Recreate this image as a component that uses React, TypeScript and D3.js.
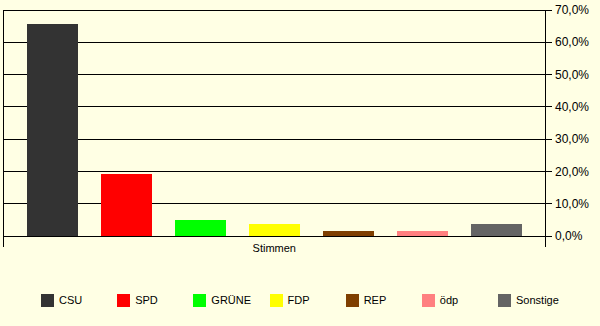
import React from "react";
import * as d3 from "d3";

const parties = ["CSU", "SPD", "GRÜNE", "FDP", "REP", "ödp", "Sonstige"];
const shares = [65.7, 19.2, 5.0, 3.7, 1.6, 1.5, 3.7];
const colors = ["#333333", "#ff0000", "#00ff00", "#ffff00", "#7f3f00", "#ff8080", "#646464"];
const yTicks = [0, 10, 20, 30, 40, 50, 60, 70];
const categoryLabel = "Stimmen";

const W = 600;
const H = 326;
const left = 3;
const right = 545.5;
const top = 10;
const bottom = 236;
const font = "'Liberation Sans', Arial, sans-serif";

export default function App() {
  const y = d3.scaleLinear().domain([0, 70]).range([bottom, top]);
  const x = d3
    .scaleBand<string>()
    .domain(parties)
    .range([15.5, 533.5])
    .paddingInner(0.311)
    .paddingOuter(0.1555);
  const fmt = (v: number) => d3.format(".1f")(v).replace(".", ",") + "%";
  const legendX = d3.scalePoint<string>().domain(parties).range([41, 498]);

  return (
    <svg
      width={W}
      height={H}
      style={{ position: "absolute", left: 0, top: 0, background: "#ffffe4" }}
    >
      <rect x={0} y={0} width={W} height={H} fill="#ffffe4" />
      {yTicks.map((t) => (
        <g key={t}>
          <line x1={left} x2={right + 6} y1={y(t)} y2={y(t)} stroke="#000" strokeWidth={1} shapeRendering="crispEdges" />
          <text x={555} y={y(t)} dy="0.35em" fontFamily={font} fontSize={12} fill="#000">
            {fmt(t)}
          </text>
        </g>
      ))}
      {parties.map((p, i) => (
        <rect
          key={p}
          x={x(p)}
          y={y(shares[i])}
          width={x.bandwidth()}
          height={bottom - y(shares[i])}
          fill={colors[i]}
          shapeRendering="crispEdges"
        />
      ))}
      <line x1={left} x2={left} y1={top} y2={247} stroke="#000" shapeRendering="crispEdges" />
      <line x1={right} x2={right} y1={top} y2={247} stroke="#000" shapeRendering="crispEdges" />
      <line x1={left} x2={right} y1={bottom} y2={bottom} stroke="#000" shapeRendering="crispEdges" />
      <text x={(left + right) / 2} y={248} dy="0.35em" textAnchor="middle" fontFamily={font} fontSize={11} fill="#000">
        {categoryLabel}
      </text>
      {parties.map((p, i) => (
        <g key={p} transform={`translate(${legendX(p)},294)`}>
          <rect x={0} y={0} width={13} height={13} fill={colors[i]} shapeRendering="crispEdges" />
          <text x={18} y={6.5} dy="0.35em" fontFamily={font} fontSize={11} fill="#000">
            {p}
          </text>
        </g>
      ))}
    </svg>
  );
}
